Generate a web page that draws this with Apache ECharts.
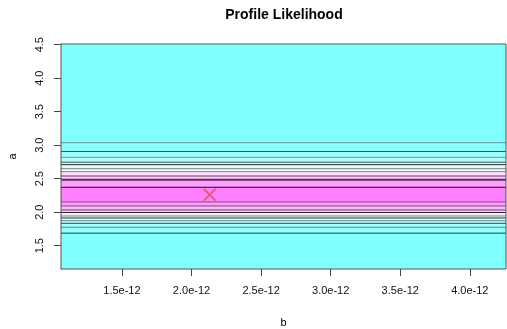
<!DOCTYPE html>
<html>
<head>
<meta charset="utf-8">
<script src="https://cdn.jsdelivr.net/npm/echarts@6/dist/echarts.min.js"></script>
<style>
  html, body { margin: 0; padding: 0; background: #fff; }
  #chart { width: 507px; height: 329px; }
</style>
</head>
<body>
<div id="chart"></div>
<script>
// axis limits (b in real units, a plain)
const bRange = [1.062e-12, 4.26e-12]
const aRange = [1.152, 4.51]
const bTicks = [1.5e-12, 2.0e-12, 2.5e-12, 3.0e-12, 3.5e-12, 4.0e-12]
const aTicks = [1.5, 2.0, 2.5, 3.0, 3.5, 4.0, 4.5]

// band edges along a (bottom -> top), image cells are constant in b
const bandEdges = [1.152, 1.687, 1.775, 1.834, 1.873, 1.913, 1.943, 1.996, 2.033, 2.093, 2.152,
  2.372, 2.473, 2.491, 2.540, 2.605, 2.648, 2.709, 2.746, 2.819, 2.906, 3.037, 4.51]
// contour levels drawn as lines
const contourLevels = [1.687, 1.775, 1.834, 1.873, 1.913, 1.943, 1.996, 2.033, 2.093, 2.152,
  2.372, 2.473, 2.491, 2.540, 2.605, 2.648, 2.709, 2.746, 2.819, 2.906, 3.037]
// maximum likelihood estimate
const mle = [2.13e-12, 2.26]

// colours (cm.colors style), one per band, bottom -> top
const bandColors = ['#80FFFF', '#94FFFF', '#A8FFFF', '#BCFFFF', '#D2FFFF', '#EAFFFF', '#FFE8FF',
  '#FFCFFF', '#FFB6FF', '#FF9CFF', '#FF80FF', '#FF9EFF', '#FFB6FF', '#FFC8FF', '#FFDEFF',
  '#F2FFFF', '#DAFFFF', '#C4FFFF', '#AFFFFF', '#9CFFFF', '#8CFFFF', '#80FFFF']
const lineColors = ['#1e3c3c', '#4e8a8a', '#2e4e4e', '#5e8e8e', '#2a3a3a', '#7a8a8a', '#222222',
  '#704470', '#7a4a7a', '#8a4a8a', '#111111', '#8a4a8a', '#1a1a1a', '#6a3e6a', '#9a6a9a',
  '#777777', '#2a2a2a', '#555555', '#6a9a9a', '#2a5a5a', '#5a9a9a']

const bands = []
for (let i = 0; i < bandEdges.length - 1; i++) {
  bands.push([bandEdges[i], bandEdges[i + 1], i])
}
const lines = contourLevels.map(function (v, i) { return [v, i] })

const font = 'Liberation Sans, Arial, Helvetica, sans-serif'

let myChart = echarts.init(document.getElementById('chart'))
let option = {
  animation: false,
  title: {
    text: 'Profile Likelihood',
    left: 284,
    top: 8,
    padding: 0,
    textAlign: 'center',
    textStyle: { fontFamily: font, fontSize: 14, fontWeight: 'bold', color: '#000' }
  },
  grid: {
    left: 61,
    right: 1,
    top: 44,
    bottom: 60,
    outerBoundsMode: 'none',
    containLabel: false,
    show: true,
    borderColor: '#555',
    borderWidth: 1,
    backgroundColor: 'transparent',
    z: 10
  },
  xAxis: {
    type: 'value',
    min: bRange[0],
    max: bRange[1],
    name: 'b',
    nameLocation: 'middle',
    nameGap: 48,
    nameTextStyle: { fontFamily: font, fontSize: 11, color: '#000' },
    axisLine: { show: false },
    splitLine: { show: false },
    axisTick: { show: true, length: 7, customValues: bTicks, lineStyle: { color: '#444' } },
    axisLabel: {
      customValues: bTicks,
      margin: 16,
      fontFamily: font,
      fontSize: 11,
      color: '#111',
      formatter: function (v) { return (v * 1e12).toFixed(1) + 'e-12' }
    }
  },
  yAxis: {
    type: 'value',
    min: aRange[0],
    max: aRange[1],
    name: 'a',
    nameLocation: 'middle',
    nameGap: 43,
    nameRotate: 90,
    nameTextStyle: { fontFamily: font, fontSize: 11, color: '#000' },
    axisLine: { show: true, lineStyle: { color: '#000' } },
    splitLine: { show: false },
    axisTick: { show: true, length: 7, customValues: aTicks, lineStyle: { color: '#444' } },
    axisLabel: {
      customValues: aTicks,
      rotate: 90,
      margin: 16,
      fontFamily: font,
      fontSize: 11,
      color: '#111',
      formatter: function (v) { return v.toFixed(1) }
    }
  },
  series: [
    {
      type: 'custom',
      data: bands,
      clip: true,
      renderItem: function (params, api) {
        const p1 = api.coord([bRange[0], api.value(1)])
        const p2 = api.coord([bRange[1], api.value(0)])
        return {
          type: 'rect',
          shape: { x: p1[0], y: p1[1], width: p2[0] - p1[0], height: p2[1] - p1[1] },
          style: { fill: bandColors[api.value(2)] }
        }
      }
    },
    {
      type: 'custom',
      data: lines,
      clip: true,
      renderItem: function (params, api) {
        const p1 = api.coord([bRange[0], api.value(0)])
        const p2 = api.coord([bRange[1], api.value(0)])
        return {
          type: 'line',
          shape: { x1: p1[0], y1: p1[1], x2: p2[0], y2: p2[1] },
          style: { stroke: lineColors[api.value(1)], lineWidth: 1 }
        }
      }
    },
    {
      type: 'scatter',
      data: [mle],
      symbol: 'path://M0,1L1,0L5,4L9,0L10,1L6,5L10,9L9,10L5,6L1,10L0,9L4,5Z',
      symbolSize: 13,
      itemStyle: { color: '#DF536B', opacity: 0.9 },
      z: 5
    }
  ]
}
myChart.setOption(option)
</script>
</body>
</html>
